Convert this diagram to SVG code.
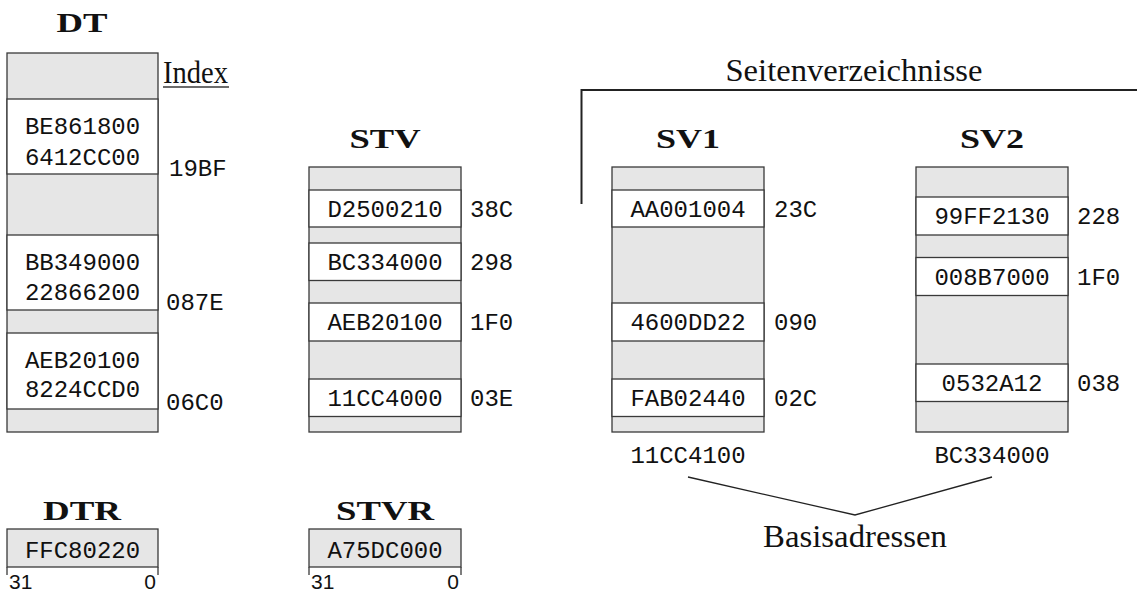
<svg xmlns="http://www.w3.org/2000/svg" width="1137" height="591" viewBox="0 0 1137 591">
  <style>
    .bg { fill: #ffffff; }
    .free { fill: #e6e6e6; stroke: #3a3a3a; stroke-width: 1.3; }
    .used { fill: #ffffff; stroke: #3a3a3a; stroke-width: 1.3; }
    .reg { fill: #e6e6e6; stroke: #3a3a3a; stroke-width: 1.3; }
    .tick { stroke: #3a3a3a; stroke-width: 1.3; fill: none; }
    .line { stroke: #222222; stroke-width: 1.3; fill: none; }
    .bracket { stroke: #222222; stroke-width: 2; fill: none; }
    .mono { font-family: "Liberation Mono", "DejaVu Sans Mono", monospace; font-size: 24px; fill: #111111; }
    .val { text-anchor: middle; }
    .title { font-family: "Liberation Serif", "DejaVu Serif", serif; font-weight: bold; font-size: 28px; fill: #111111; text-anchor: middle; }
    .serif { font-family: "Liberation Serif", "DejaVu Serif", serif; font-size: 31px; fill: #111111; }
    .bit { font-family: "Liberation Sans", "DejaVu Sans", sans-serif; font-size: 21px; fill: #111111; }
  </style>

  <rect class="bg" x="0" y="0" width="1137" height="591"/>

  <!-- Descriptor table -->
  <g id="dt">
    <text class="title" x="82" y="31.5" textLength="51" lengthAdjust="spacingAndGlyphs">DT</text>
    <rect class="free" x="7" y="53" width="151" height="379"/>
    <rect class="used" x="7" y="99" width="151" height="75"/>
    <rect class="used" x="7" y="235" width="151" height="75"/>
    <rect class="used" x="7" y="333" width="151" height="76"/>
    <text class="mono val" x="82.5" y="134">BE861800</text>
    <text class="mono val" x="82.5" y="165">6412CC00</text>
    <text class="mono val" x="82.5" y="270">BB349000</text>
    <text class="mono val" x="82.5" y="300">22866200</text>
    <text class="mono val" x="82.5" y="368">AEB20100</text>
    <text class="mono val" x="82.5" y="397">8224CCD0</text>
    <text class="serif" x="163" y="83" font-size="27" textLength="65" lengthAdjust="spacingAndGlyphs">Index</text>
    <line class="tick" x1="163" y1="87" x2="229" y2="87"/>
    <text class="mono" x="169" y="176">19BF</text>
    <text class="mono" x="166" y="310">087E</text>
    <text class="mono" x="166" y="410">06C0</text>
  </g>

  <!-- Segment table -->
  <g id="stv">
    <text class="title" x="385" y="148" textLength="71" lengthAdjust="spacingAndGlyphs">STV</text>
    <rect class="free" x="309" y="167" width="152" height="265"/>
    <rect class="used" x="309" y="190" width="152" height="37"/>
    <rect class="used" x="309" y="243" width="152" height="37.5"/>
    <rect class="used" x="309" y="303" width="152" height="38"/>
    <rect class="used" x="309" y="379" width="152" height="37.5"/>
    <text class="mono val" x="385" y="216.5">D2500210</text>
    <text class="mono val" x="385" y="270">BC334000</text>
    <text class="mono val" x="385" y="330">AEB20100</text>
    <text class="mono val" x="385" y="406">11CC4000</text>
    <text class="mono" x="470" y="216.5">38C</text>
    <text class="mono" x="470" y="270">298</text>
    <text class="mono" x="470" y="330">1F0</text>
    <text class="mono" x="470" y="406">03E</text>
  </g>

  <!-- Page directory 1 -->
  <g id="sv1">
    <text class="title" x="688" y="148" textLength="64" lengthAdjust="spacingAndGlyphs">SV1</text>
    <rect class="free" x="612" y="167" width="152" height="265"/>
    <rect class="used" x="612" y="190" width="152" height="37"/>
    <rect class="used" x="612" y="303" width="152" height="38"/>
    <rect class="used" x="612" y="379" width="152" height="37.5"/>
    <text class="mono val" x="688" y="216.5">AA001004</text>
    <text class="mono val" x="688" y="330">4600DD22</text>
    <text class="mono val" x="688" y="406">FAB02440</text>
    <text class="mono" x="774" y="216.5">23C</text>
    <text class="mono" x="774" y="330">090</text>
    <text class="mono" x="774" y="406">02C</text>
    <text class="mono val" x="688" y="463">11CC4100</text>
  </g>

  <!-- Page directory 2 -->
  <g id="sv2">
    <text class="title" x="992" y="148" textLength="64" lengthAdjust="spacingAndGlyphs">SV2</text>
    <rect class="free" x="916" y="167" width="152" height="265"/>
    <rect class="used" x="916" y="197" width="152" height="38"/>
    <rect class="used" x="916" y="257.5" width="152" height="38"/>
    <rect class="used" x="916" y="364" width="152" height="37.5"/>
    <text class="mono val" x="992" y="224">99FF2130</text>
    <text class="mono val" x="992" y="284.5">008B7000</text>
    <text class="mono val" x="992" y="391">0532A12</text>
    <text class="mono" x="1077" y="224">228</text>
    <text class="mono" x="1077" y="284.5">1F0</text>
    <text class="mono" x="1077" y="391">038</text>
    <text class="mono val" x="992" y="463">BC334000</text>
  </g>

  <!-- Descriptor table register -->
  <g id="dtr">
    <text class="title" x="82" y="520" textLength="78" lengthAdjust="spacingAndGlyphs">DTR</text>
    <rect class="reg" x="7" y="529" width="151" height="38"/>
    <path class="tick" d="M7,567 V575 M158,567 V575"/>
    <text class="mono val" x="82.5" y="558">FFC80220</text>
    <text class="bit" x="9" y="589">31</text>
    <text class="bit" x="156" y="589" text-anchor="end">0</text>
  </g>

  <!-- Segment table register -->
  <g id="stvr">
    <text class="title" x="385" y="520" textLength="98" lengthAdjust="spacingAndGlyphs">STVR</text>
    <rect class="reg" x="309" y="529" width="152" height="38"/>
    <path class="tick" d="M309,567 V575 M461,567 V575"/>
    <text class="mono val" x="385" y="558">A75DC000</text>
    <text class="bit" x="311" y="589">31</text>
    <text class="bit" x="459" y="589" text-anchor="end">0</text>
  </g>

  <!-- Annotations: bracket over the page directories and the base-address fork -->
  <g id="connectors">
    <path class="bracket" d="M581.5,204 V90 H1137"/>
    <text class="serif" x="854" y="81" text-anchor="middle" textLength="257" lengthAdjust="spacingAndGlyphs">Seitenverzeichnisse</text>
    <polyline class="line" points="688,477 855,515 992,477"/>
    <text class="serif" x="855" y="547" text-anchor="middle" textLength="184" lengthAdjust="spacingAndGlyphs">Basisadressen</text>
  </g>
</svg>
